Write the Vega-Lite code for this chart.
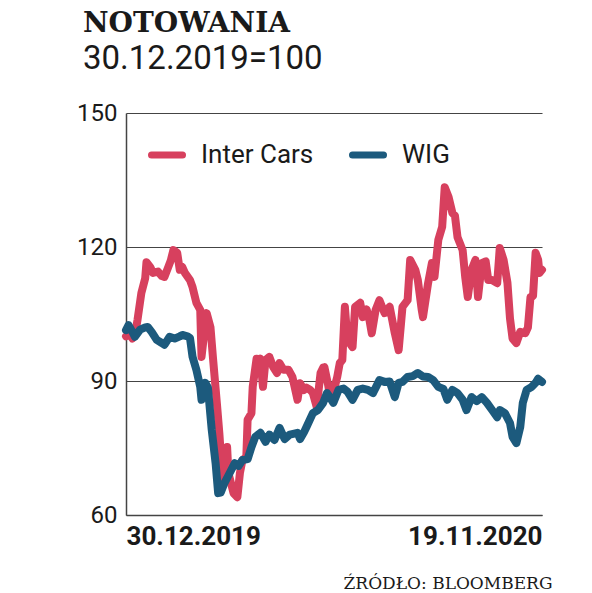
{
  "$schema": "https://vega.github.io/schema/vega-lite/v6.json",
  "width": 416,
  "height": 402,
  "autosize": {"type": "none"},
  "padding": {"left": 126, "top": 113, "right": 50, "bottom": 78},
  "background": "white",
  "config": {"view": {"stroke": null}},
  "title": {
    "text": "NOTOWANIA",
    "subtitle": "30.12.2019=100",
    "anchor": "start",
    "frame": "group",
    "dx": -43,
    "offset": 25,
    "font": "DejaVu Serif",
    "fontSize": 28,
    "fontWeight": "bold",
    "color": "#1a1a1a",
    "subtitleFont": "Roboto",
    "subtitleFontSize": 33,
    "subtitleColor": "#1a1a1a",
    "subtitlePadding": 5
  },
  "data": {
    "values": [
      {"d":"2019-12-30","s":"Inter Cars","v":100},
      {"d":"2020-01-02","s":"Inter Cars","v":100.5},
      {"d":"2020-01-04","s":"Inter Cars","v":99.5},
      {"d":"2020-01-07","s":"Inter Cars","v":102},
      {"d":"2020-01-08","s":"Inter Cars","v":103.7},
      {"d":"2020-01-11","s":"Inter Cars","v":109.7},
      {"d":"2020-01-14","s":"Inter Cars","v":113},
      {"d":"2020-01-15","s":"Inter Cars","v":116.6},
      {"d":"2020-01-18","s":"Inter Cars","v":115.5},
      {"d":"2020-01-20","s":"Inter Cars","v":114.2},
      {"d":"2020-01-24","s":"Inter Cars","v":114.5},
      {"d":"2020-01-27","s":"Inter Cars","v":113.5},
      {"d":"2020-01-29","s":"Inter Cars","v":113.3},
      {"d":"2020-02-01","s":"Inter Cars","v":115.5},
      {"d":"2020-02-03","s":"Inter Cars","v":117},
      {"d":"2020-02-05","s":"Inter Cars","v":119.3},
      {"d":"2020-02-08","s":"Inter Cars","v":118.7},
      {"d":"2020-02-10","s":"Inter Cars","v":114.9},
      {"d":"2020-02-12","s":"Inter Cars","v":115.5},
      {"d":"2020-02-14","s":"Inter Cars","v":114.2},
      {"d":"2020-02-18","s":"Inter Cars","v":112.6},
      {"d":"2020-02-20","s":"Inter Cars","v":111},
      {"d":"2020-02-23","s":"Inter Cars","v":107.5},
      {"d":"2020-02-26","s":"Inter Cars","v":105.9},
      {"d":"2020-02-27","s":"Inter Cars","v":95.4},
      {"d":"2020-03-01","s":"Inter Cars","v":103},
      {"d":"2020-03-02","s":"Inter Cars","v":105.2},
      {"d":"2020-03-05","s":"Inter Cars","v":102},
      {"d":"2020-03-07","s":"Inter Cars","v":95},
      {"d":"2020-03-10","s":"Inter Cars","v":85},
      {"d":"2020-03-12","s":"Inter Cars","v":78},
      {"d":"2020-03-14","s":"Inter Cars","v":69.4},
      {"d":"2020-03-16","s":"Inter Cars","v":68},
      {"d":"2020-03-18","s":"Inter Cars","v":75.2},
      {"d":"2020-03-19","s":"Inter Cars","v":69.4},
      {"d":"2020-03-23","s":"Inter Cars","v":64.9},
      {"d":"2020-03-26","s":"Inter Cars","v":64},
      {"d":"2020-03-28","s":"Inter Cars","v":69.4},
      {"d":"2020-03-30","s":"Inter Cars","v":72.3},
      {"d":"2020-04-02","s":"Inter Cars","v":73},
      {"d":"2020-04-03","s":"Inter Cars","v":81.3},
      {"d":"2020-04-06","s":"Inter Cars","v":82.8},
      {"d":"2020-04-07","s":"Inter Cars","v":88.7},
      {"d":"2020-04-10","s":"Inter Cars","v":95},
      {"d":"2020-04-12","s":"Inter Cars","v":94.5},
      {"d":"2020-04-13","s":"Inter Cars","v":95},
      {"d":"2020-04-15","s":"Inter Cars","v":88.7},
      {"d":"2020-04-17","s":"Inter Cars","v":94.7},
      {"d":"2020-04-20","s":"Inter Cars","v":95.4},
      {"d":"2020-04-23","s":"Inter Cars","v":93.1},
      {"d":"2020-04-26","s":"Inter Cars","v":91.8},
      {"d":"2020-04-28","s":"Inter Cars","v":94},
      {"d":"2020-05-01","s":"Inter Cars","v":92.5},
      {"d":"2020-05-05","s":"Inter Cars","v":92.5},
      {"d":"2020-05-08","s":"Inter Cars","v":90.9},
      {"d":"2020-05-12","s":"Inter Cars","v":85.8},
      {"d":"2020-05-14","s":"Inter Cars","v":89.5},
      {"d":"2020-05-17","s":"Inter Cars","v":88},
      {"d":"2020-05-19","s":"Inter Cars","v":88.5},
      {"d":"2020-05-22","s":"Inter Cars","v":88},
      {"d":"2020-05-24","s":"Inter Cars","v":87.3},
      {"d":"2020-05-27","s":"Inter Cars","v":84.2},
      {"d":"2020-05-30","s":"Inter Cars","v":91.8},
      {"d":"2020-06-01","s":"Inter Cars","v":93},
      {"d":"2020-06-02","s":"Inter Cars","v":93.1},
      {"d":"2020-06-05","s":"Inter Cars","v":89},
      {"d":"2020-06-06","s":"Inter Cars","v":87.3},
      {"d":"2020-06-09","s":"Inter Cars","v":87.5},
      {"d":"2020-06-12","s":"Inter Cars","v":90.9},
      {"d":"2020-06-14","s":"Inter Cars","v":94},
      {"d":"2020-06-16","s":"Inter Cars","v":94.7},
      {"d":"2020-06-18","s":"Inter Cars","v":106.6},
      {"d":"2020-06-20","s":"Inter Cars","v":99.2},
      {"d":"2020-06-24","s":"Inter Cars","v":97.6},
      {"d":"2020-06-26","s":"Inter Cars","v":106.6},
      {"d":"2020-06-30","s":"Inter Cars","v":107.5},
      {"d":"2020-07-02","s":"Inter Cars","v":104.3},
      {"d":"2020-07-05","s":"Inter Cars","v":106},
      {"d":"2020-07-07","s":"Inter Cars","v":104},
      {"d":"2020-07-09","s":"Inter Cars","v":100.7},
      {"d":"2020-07-12","s":"Inter Cars","v":105.9},
      {"d":"2020-07-15","s":"Inter Cars","v":108.1},
      {"d":"2020-07-19","s":"Inter Cars","v":105.2},
      {"d":"2020-07-23","s":"Inter Cars","v":106.6},
      {"d":"2020-07-27","s":"Inter Cars","v":100.7},
      {"d":"2020-07-30","s":"Inter Cars","v":96.9},
      {"d":"2020-08-02","s":"Inter Cars","v":106.6},
      {"d":"2020-08-06","s":"Inter Cars","v":108.1},
      {"d":"2020-08-08","s":"Inter Cars","v":117.1},
      {"d":"2020-08-12","s":"Inter Cars","v":114.9},
      {"d":"2020-08-14","s":"Inter Cars","v":112.6},
      {"d":"2020-08-17","s":"Inter Cars","v":106},
      {"d":"2020-08-18","s":"Inter Cars","v":104.3},
      {"d":"2020-08-22","s":"Inter Cars","v":111.9},
      {"d":"2020-08-25","s":"Inter Cars","v":116.4},
      {"d":"2020-08-27","s":"Inter Cars","v":113.3},
      {"d":"2020-08-30","s":"Inter Cars","v":121.6},
      {"d":"2020-09-02","s":"Inter Cars","v":124.5},
      {"d":"2020-09-04","s":"Inter Cars","v":133.4},
      {"d":"2020-09-07","s":"Inter Cars","v":131.2},
      {"d":"2020-09-10","s":"Inter Cars","v":127.6},
      {"d":"2020-09-12","s":"Inter Cars","v":127},
      {"d":"2020-09-14","s":"Inter Cars","v":122.2},
      {"d":"2020-09-18","s":"Inter Cars","v":119.3},
      {"d":"2020-09-20","s":"Inter Cars","v":113.3},
      {"d":"2020-09-22","s":"Inter Cars","v":108.8},
      {"d":"2020-09-25","s":"Inter Cars","v":114.9},
      {"d":"2020-09-28","s":"Inter Cars","v":117.1},
      {"d":"2020-09-30","s":"Inter Cars","v":108.8},
      {"d":"2020-10-03","s":"Inter Cars","v":116.4},
      {"d":"2020-10-06","s":"Inter Cars","v":116.8},
      {"d":"2020-10-08","s":"Inter Cars","v":112.6},
      {"d":"2020-10-11","s":"Inter Cars","v":112.6},
      {"d":"2020-10-15","s":"Inter Cars","v":111.9},
      {"d":"2020-10-17","s":"Inter Cars","v":119.8},
      {"d":"2020-10-20","s":"Inter Cars","v":117.1},
      {"d":"2020-10-23","s":"Inter Cars","v":112},
      {"d":"2020-10-25","s":"Inter Cars","v":104},
      {"d":"2020-10-27","s":"Inter Cars","v":99.5},
      {"d":"2020-10-30","s":"Inter Cars","v":98.5},
      {"d":"2020-11-02","s":"Inter Cars","v":101},
      {"d":"2020-11-06","s":"Inter Cars","v":100.7},
      {"d":"2020-11-08","s":"Inter Cars","v":102},
      {"d":"2020-11-10","s":"Inter Cars","v":108.8},
      {"d":"2020-11-12","s":"Inter Cars","v":109},
      {"d":"2020-11-14","s":"Inter Cars","v":118.7},
      {"d":"2020-11-16","s":"Inter Cars","v":117.1},
      {"d":"2020-11-17","s":"Inter Cars","v":114.2},
      {"d":"2020-11-19","s":"Inter Cars","v":114.9},
      {"d":"2019-12-30","s":"WIG","v":101.4},
      {"d":"2020-01-01","s":"WIG","v":102.5},
      {"d":"2020-01-04","s":"WIG","v":101},
      {"d":"2020-01-06","s":"WIG","v":99.9},
      {"d":"2020-01-10","s":"WIG","v":101.5},
      {"d":"2020-01-14","s":"WIG","v":102},
      {"d":"2020-01-16","s":"WIG","v":102.1},
      {"d":"2020-01-19","s":"WIG","v":101},
      {"d":"2020-01-23","s":"WIG","v":99.2},
      {"d":"2020-01-27","s":"WIG","v":98.5},
      {"d":"2020-01-29","s":"WIG","v":98.1},
      {"d":"2020-02-02","s":"WIG","v":99.9},
      {"d":"2020-02-06","s":"WIG","v":99.5},
      {"d":"2020-02-10","s":"WIG","v":100},
      {"d":"2020-02-12","s":"WIG","v":100.3},
      {"d":"2020-02-16","s":"WIG","v":100},
      {"d":"2020-02-18","s":"WIG","v":99.6},
      {"d":"2020-02-20","s":"WIG","v":95.4},
      {"d":"2020-02-23","s":"WIG","v":92.5},
      {"d":"2020-02-26","s":"WIG","v":88.7},
      {"d":"2020-02-27","s":"WIG","v":85.8},
      {"d":"2020-03-01","s":"WIG","v":89.6},
      {"d":"2020-03-03","s":"WIG","v":88.5},
      {"d":"2020-03-06","s":"WIG","v":79},
      {"d":"2020-03-09","s":"WIG","v":71.6},
      {"d":"2020-03-11","s":"WIG","v":64.9},
      {"d":"2020-03-13","s":"WIG","v":65},
      {"d":"2020-03-16","s":"WIG","v":67.2},
      {"d":"2020-03-20","s":"WIG","v":69.4},
      {"d":"2020-03-24","s":"WIG","v":71.6},
      {"d":"2020-03-27","s":"WIG","v":71},
      {"d":"2020-03-30","s":"WIG","v":72.3},
      {"d":"2020-04-03","s":"WIG","v":72.5},
      {"d":"2020-04-06","s":"WIG","v":75.2},
      {"d":"2020-04-09","s":"WIG","v":77.5},
      {"d":"2020-04-13","s":"WIG","v":78.4},
      {"d":"2020-04-17","s":"WIG","v":76.4},
      {"d":"2020-04-20","s":"WIG","v":78},
      {"d":"2020-04-24","s":"WIG","v":76.8},
      {"d":"2020-04-28","s":"WIG","v":79.5},
      {"d":"2020-05-02","s":"WIG","v":77},
      {"d":"2020-05-06","s":"WIG","v":78},
      {"d":"2020-05-12","s":"WIG","v":78.4},
      {"d":"2020-05-14","s":"WIG","v":77},
      {"d":"2020-05-17","s":"WIG","v":78.5},
      {"d":"2020-05-19","s":"WIG","v":79.7},
      {"d":"2020-05-24","s":"WIG","v":82.8},
      {"d":"2020-05-28","s":"WIG","v":83.5},
      {"d":"2020-06-01","s":"WIG","v":85.1},
      {"d":"2020-06-04","s":"WIG","v":87.3},
      {"d":"2020-06-06","s":"WIG","v":86.5},
      {"d":"2020-06-09","s":"WIG","v":85.1},
      {"d":"2020-06-13","s":"WIG","v":88},
      {"d":"2020-06-17","s":"WIG","v":88.3},
      {"d":"2020-06-20","s":"WIG","v":87.6},
      {"d":"2020-06-24","s":"WIG","v":85.8},
      {"d":"2020-06-28","s":"WIG","v":88},
      {"d":"2020-07-02","s":"WIG","v":88.3},
      {"d":"2020-07-06","s":"WIG","v":88},
      {"d":"2020-07-10","s":"WIG","v":87.3},
      {"d":"2020-07-15","s":"WIG","v":90.2},
      {"d":"2020-07-19","s":"WIG","v":89.8},
      {"d":"2020-07-23","s":"WIG","v":89.9},
      {"d":"2020-07-27","s":"WIG","v":86.4},
      {"d":"2020-07-30","s":"WIG","v":89.6},
      {"d":"2020-08-02","s":"WIG","v":89.8},
      {"d":"2020-08-06","s":"WIG","v":90.9},
      {"d":"2020-08-10","s":"WIG","v":91.1},
      {"d":"2020-08-14","s":"WIG","v":91.8},
      {"d":"2020-08-18","s":"WIG","v":91},
      {"d":"2020-08-22","s":"WIG","v":90.9},
      {"d":"2020-08-26","s":"WIG","v":90.2},
      {"d":"2020-08-30","s":"WIG","v":88.7},
      {"d":"2020-09-03","s":"WIG","v":88.2},
      {"d":"2020-09-06","s":"WIG","v":85.8},
      {"d":"2020-09-10","s":"WIG","v":88},
      {"d":"2020-09-14","s":"WIG","v":87.3},
      {"d":"2020-09-18","s":"WIG","v":85.8},
      {"d":"2020-09-21","s":"WIG","v":83.5},
      {"d":"2020-09-25","s":"WIG","v":86.4},
      {"d":"2020-09-29","s":"WIG","v":85.5},
      {"d":"2020-10-03","s":"WIG","v":86.4},
      {"d":"2020-10-07","s":"WIG","v":85.1},
      {"d":"2020-10-11","s":"WIG","v":83.5},
      {"d":"2020-10-15","s":"WIG","v":81.9},
      {"d":"2020-10-17","s":"WIG","v":83.5},
      {"d":"2020-10-21","s":"WIG","v":82.8},
      {"d":"2020-10-25","s":"WIG","v":80.6},
      {"d":"2020-10-27","s":"WIG","v":77.5},
      {"d":"2020-10-30","s":"WIG","v":76.1},
      {"d":"2020-11-02","s":"WIG","v":79.7},
      {"d":"2020-11-04","s":"WIG","v":85.1},
      {"d":"2020-11-07","s":"WIG","v":88},
      {"d":"2020-11-11","s":"WIG","v":88.7},
      {"d":"2020-11-14","s":"WIG","v":89.6},
      {"d":"2020-11-16","s":"WIG","v":90.5},
      {"d":"2020-11-19","s":"WIG","v":89.8}
    ]
  },
  "mark": {"type": "line", "strokeWidth": 8, "strokeJoin": "round", "strokeCap": "round"},
  "encoding": {
    "x": {
      "field": "d",
      "type": "temporal",
      "scale": {"type": "utc", "domain": [{"year": 2019, "month": 12, "date": 30, "utc": true}, {"year": 2020, "month": 11, "date": 19, "utc": true}], "nice": false},
      "axis": {
        "values": [{"year": 2019, "month": 12, "date": 30, "utc": true}, {"year": 2020, "month": 11, "date": 19, "utc": true}],
        "format": "%d.%m.%Y",
        "labelFlush": true,
        "labelFont": "Roboto",
        "labelFontSize": 26,
        "labelFontWeight": "bold",
        "labelColor": "#1a1a1a",
        "labelPadding": 8,
        "ticks": false,
        "tickSize": 0,
        "grid": false,
        "domainColor": "#444444",
        "domainWidth": 1.5,
        "title": "ŹRÓDŁO: BLOOMBERG",
        "titleFont": "DejaVu Serif",
        "titleFontSize": 17,
        "titleFontWeight": "normal",
        "titleColor": "#1a1a1a",
        "titleAnchor": "end",
        "titleAlign": "right",
        "titleBaseline": "alphabetic",
        "titleX": 426,
        "titleY": 73
      }
    },
    "y": {
      "field": "v",
      "type": "quantitative",
      "scale": {"domain": [60, 150], "nice": false, "zero": false},
      "axis": {
        "values": [60, 90, 120, 150],
        "labelFont": "Roboto",
        "labelFontSize": 24,
        "labelColor": "#1a1a1a",
        "labelPadding": 9,
        "ticks": false,
        "tickSize": 0,
        "grid": true,
        "gridColor": "#444444",
        "gridWidth": 1.2,
        "domainColor": "#444444",
        "domainWidth": 1.5,
        "title": null
      }
    },
    "color": {
      "field": "s",
      "type": "nominal",
      "scale": {"domain": ["Inter Cars", "WIG"], "range": ["#d7405e", "#1c5a7d"]},
      "legend": {
        "title": null,
        "orient": "none",
        "direction": "horizontal",
        "legendX": 22,
        "legendY": 23,
        "symbolType": "M-1,0L1,0",
        "symbolSize": 961,
        "symbolStrokeWidth": 7,
        "labelFont": "Roboto",
        "labelFontSize": 26,
        "labelColor": "#1a1a1a",
        "labelOffset": 15,
        "columnPadding": 24,
        "padding": 0,
        "encode": {"symbols": {"update": {"strokeCap": {"value": "round"}}}}
      }
    }
  }
}
